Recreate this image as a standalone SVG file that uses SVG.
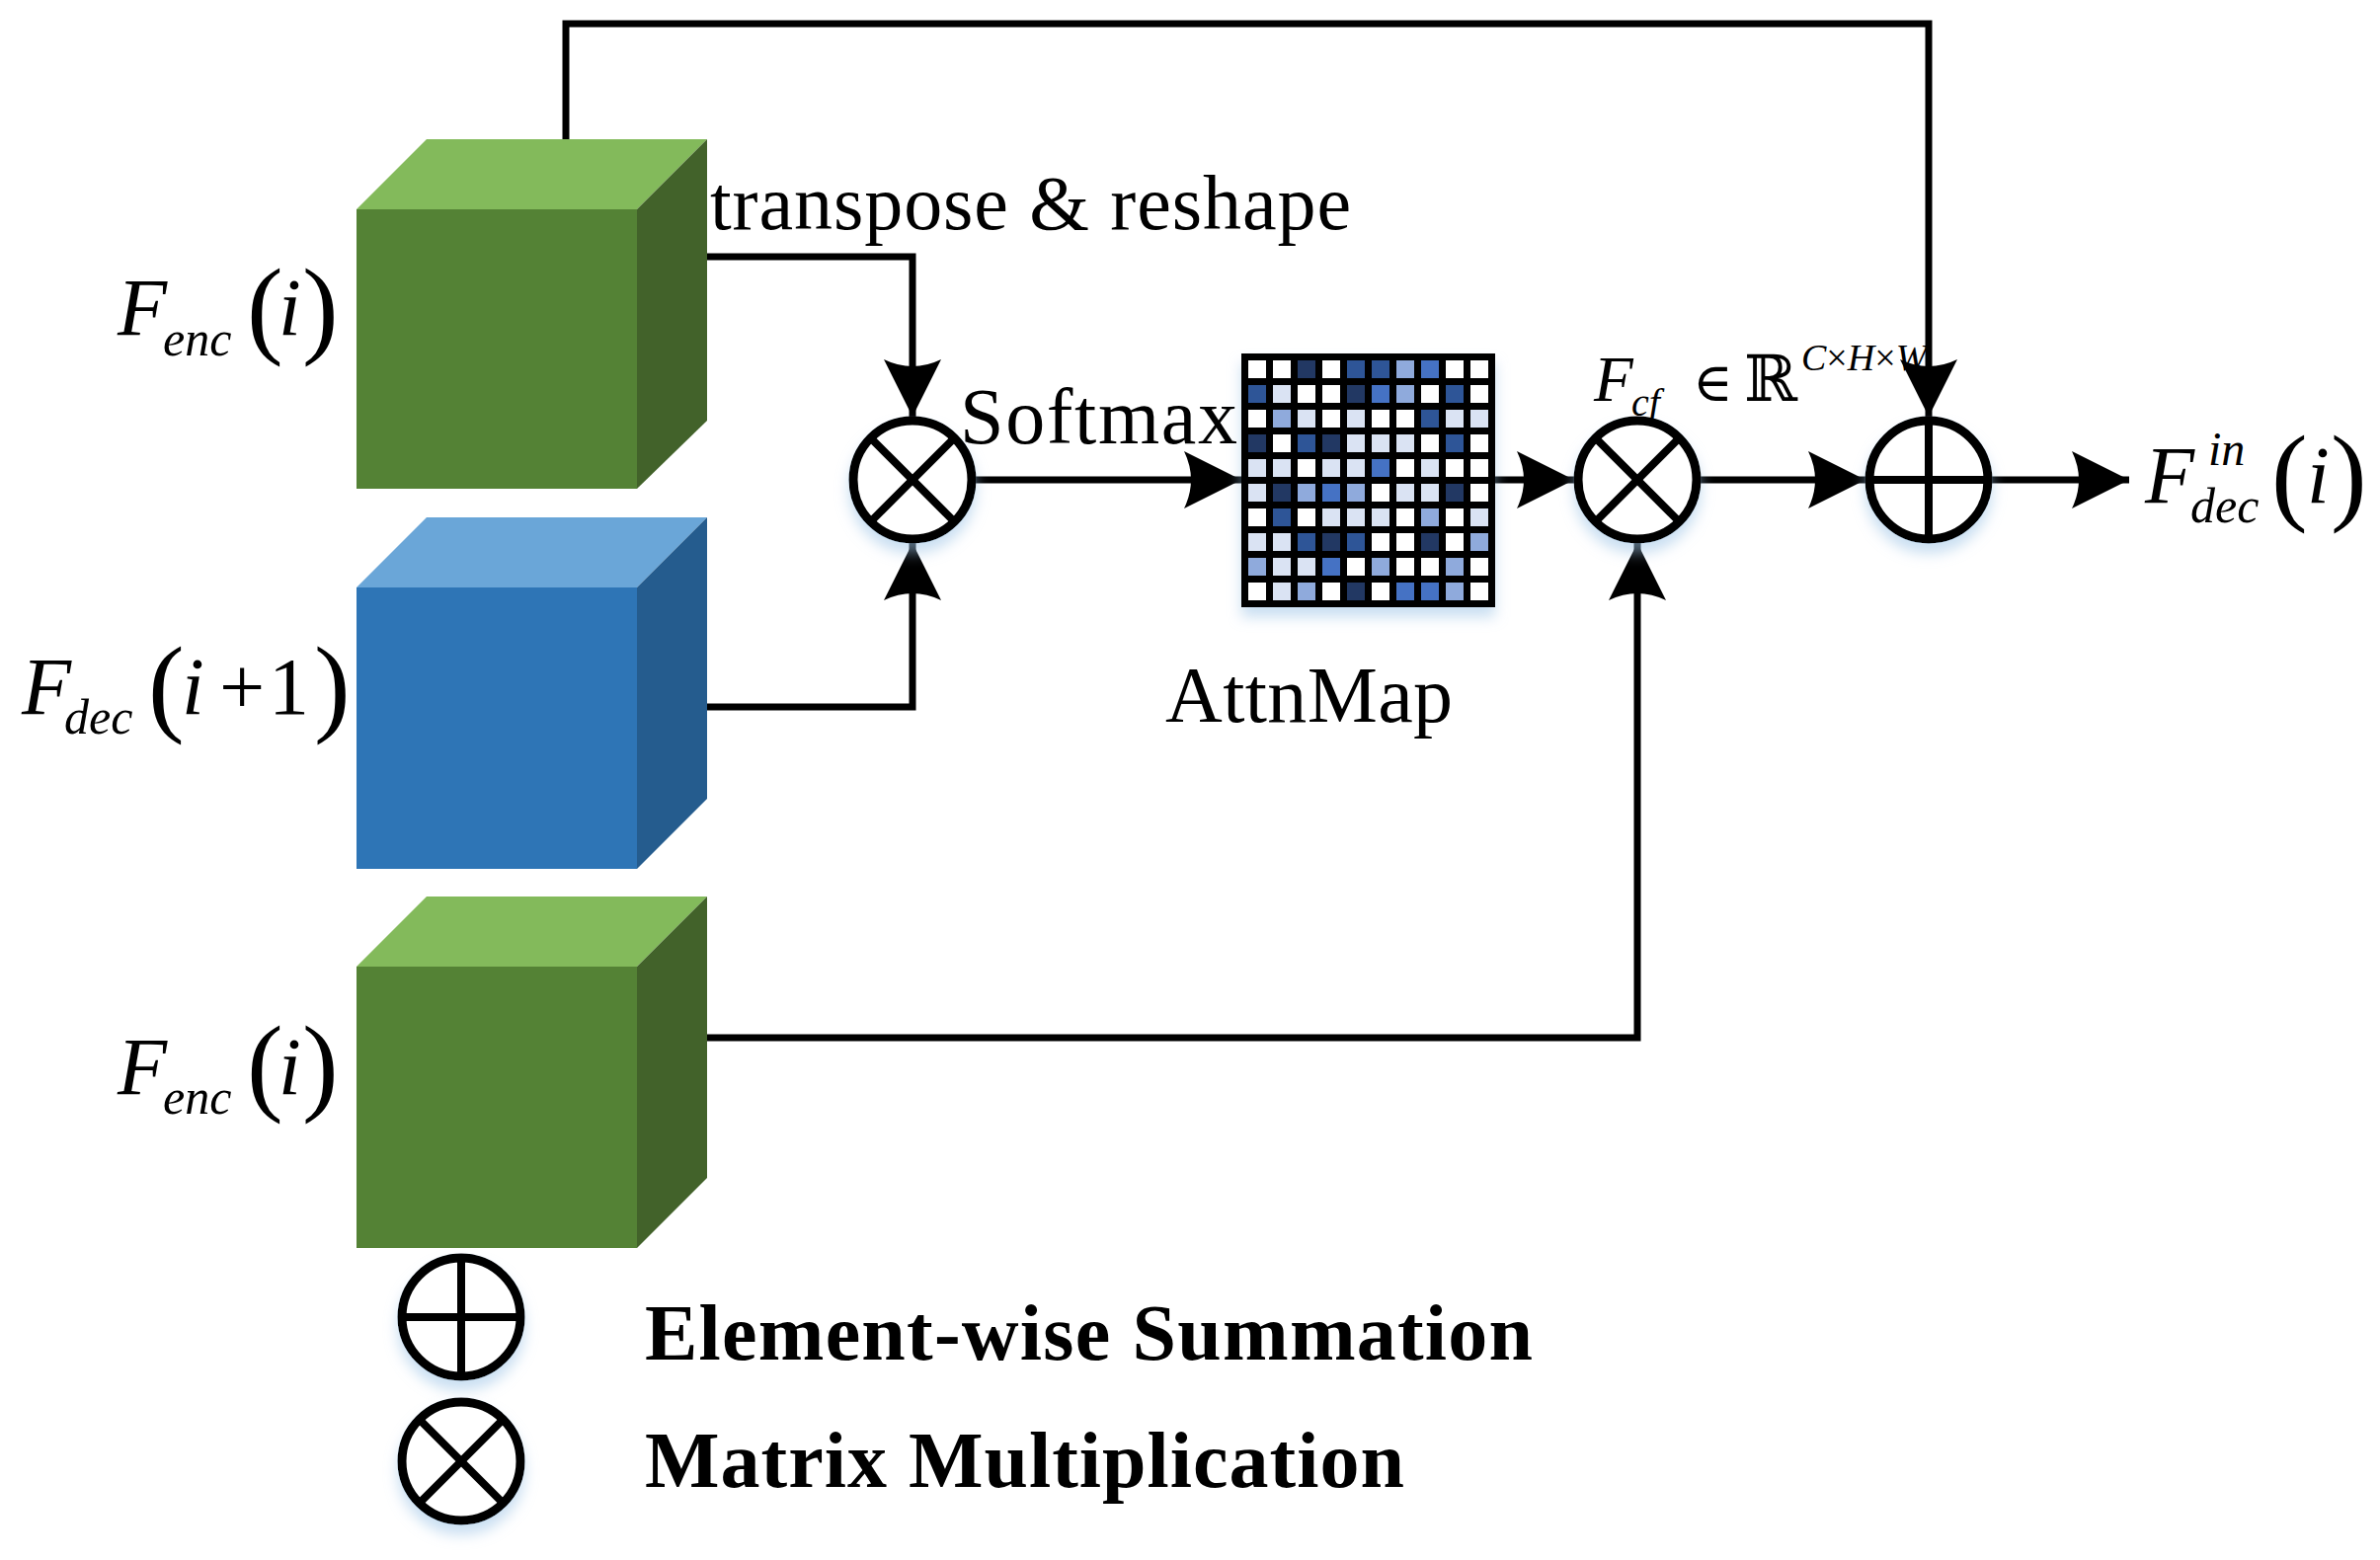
<svg xmlns="http://www.w3.org/2000/svg" width="2410" height="1580" viewBox="0 0 2410 1580">
<style>
.t{font-family:"Liberation Serif","DejaVu Serif",serif;fill:#000}
.i{font-style:italic}
.b{font-weight:bold}
.ln{fill:none;stroke:#000;stroke-width:7}
.op{fill:#fff;stroke:#000;stroke-width:9}
.cx{stroke:#000;stroke-width:8}
.W{fill:#fff}.V{fill:#DAE3F3}.L{fill:#8FAADC}.B{fill:#4472C4}.M{fill:#2F5597}.D{fill:#203864}
</style>
<defs>
<marker id="ar" markerUnits="userSpaceOnUse" markerWidth="60" markerHeight="60" refX="58" refY="29" orient="auto">
<path d="M0,0 L58,29 L0,58 Q14,29 0,0 Z" fill="#000"/>
</marker>
<filter id="gl" x="-30%" y="-30%" width="160%" height="170%">
<feFlood flood-color="#9DC3E6" flood-opacity="0.55"/>
<feComposite in2="SourceAlpha" operator="in"/>
<feGaussianBlur stdDeviation="7"/>
<feOffset dy="10" result="s"/>
<feMerge><feMergeNode in="s"/><feMergeNode in="SourceGraphic"/></feMerge>
</filter>
</defs>

<g id="cube-enc-top">
<polygon points="361,212 432,141 716,141 645,212" fill="#83BA5B"/>
<polygon points="645,212 716,141 716,426 645,495" fill="#42622A"/>
<rect x="361" y="212" width="284" height="283" fill="#548235"/>
</g>
<g id="cube-dec">
<polygon points="361,595 432,524 716,524 645,595" fill="#6AA6D8"/>
<polygon points="645,595 716,524 716,809 645,880" fill="#255C8E"/>
<rect x="361" y="595" width="284" height="285" fill="#2E75B6"/>
</g>
<g id="cube-enc-bottom">
<polygon points="361,979 432,908 716,908 645,979" fill="#83BA5B"/>
<polygon points="645,979 716,908 716,1193 645,1264" fill="#42622A"/>
<rect x="361" y="979" width="284" height="285" fill="#548235"/>
</g>

<g id="connectors">
<path class="ln" d="M716,260 H924 V422" marker-end="url(#ar)"/>
<path class="ln" d="M716,716 H924 V550" marker-end="url(#ar)"/>
<path class="ln" d="M988,486 H1257" marker-end="url(#ar)"/>
<path class="ln" d="M1514,486 H1594" marker-end="url(#ar)"/>
<path class="ln" d="M1722,486 H1889" marker-end="url(#ar)"/>
<path class="ln" d="M2017,486 H2156" marker-end="url(#ar)"/>
<path class="ln" d="M573,141 V24 H1953 V422" marker-end="url(#ar)"/>
<path class="ln" d="M716,1051 H1658 V550" marker-end="url(#ar)"/>
</g>

<g id="mul1" filter="url(#gl)">
<circle class="op" cx="924" cy="486" r="60"/>
<line class="cx" x1="882" y1="444" x2="966" y2="528"/>
<line class="cx" x1="966" y1="444" x2="882" y2="528"/>
</g>
<g id="mul2" filter="url(#gl)">
<circle class="op" cx="1658" cy="486" r="60"/>
<line class="cx" x1="1616" y1="444" x2="1700" y2="528"/>
<line class="cx" x1="1700" y1="444" x2="1616" y2="528"/>
</g>
<g id="sum" filter="url(#gl)">
<circle class="op" cx="1953" cy="486" r="60"/>
<line class="cx" x1="1953" y1="426" x2="1953" y2="546"/>
<line class="cx" x1="1893" y1="486" x2="2013" y2="486"/>
</g>

<g id="attnmap" filter="url(#gl)">
<rect x="1257" y="358" width="257" height="257" fill="#000"/>
<g transform="translate(1264,365)">
<g transform="translate(0,0)"><rect class="W" x="0" width="18" height="18"/><rect class="W" x="25" width="18" height="18"/><rect class="D" x="50" width="18" height="18"/><rect class="W" x="75" width="18" height="18"/><rect class="M" x="100" width="18" height="18"/><rect class="M" x="125" width="18" height="18"/><rect class="L" x="150" width="18" height="18"/><rect class="B" x="175" width="18" height="18"/><rect class="W" x="200" width="18" height="18"/><rect class="W" x="225" width="18" height="18"/></g>
<g transform="translate(0,25)"><rect class="M" x="0" width="18" height="18"/><rect class="V" x="25" width="18" height="18"/><rect class="W" x="50" width="18" height="18"/><rect class="W" x="75" width="18" height="18"/><rect class="D" x="100" width="18" height="18"/><rect class="B" x="125" width="18" height="18"/><rect class="L" x="150" width="18" height="18"/><rect class="W" x="175" width="18" height="18"/><rect class="M" x="200" width="18" height="18"/><rect class="W" x="225" width="18" height="18"/></g>
<g transform="translate(0,50)"><rect class="W" x="0" width="18" height="18"/><rect class="L" x="25" width="18" height="18"/><rect class="V" x="50" width="18" height="18"/><rect class="W" x="75" width="18" height="18"/><rect class="V" x="100" width="18" height="18"/><rect class="W" x="125" width="18" height="18"/><rect class="W" x="150" width="18" height="18"/><rect class="M" x="175" width="18" height="18"/><rect class="V" x="200" width="18" height="18"/><rect class="V" x="225" width="18" height="18"/></g>
<g transform="translate(0,75)"><rect class="D" x="0" width="18" height="18"/><rect class="W" x="25" width="18" height="18"/><rect class="M" x="50" width="18" height="18"/><rect class="D" x="75" width="18" height="18"/><rect class="V" x="100" width="18" height="18"/><rect class="V" x="125" width="18" height="18"/><rect class="V" x="150" width="18" height="18"/><rect class="W" x="175" width="18" height="18"/><rect class="M" x="200" width="18" height="18"/><rect class="W" x="225" width="18" height="18"/></g>
<g transform="translate(0,100)"><rect class="V" x="0" width="18" height="18"/><rect class="V" x="25" width="18" height="18"/><rect class="W" x="50" width="18" height="18"/><rect class="V" x="75" width="18" height="18"/><rect class="V" x="100" width="18" height="18"/><rect class="B" x="125" width="18" height="18"/><rect class="W" x="150" width="18" height="18"/><rect class="V" x="175" width="18" height="18"/><rect class="W" x="200" width="18" height="18"/><rect class="W" x="225" width="18" height="18"/></g>
<g transform="translate(0,125)"><rect class="V" x="0" width="18" height="18"/><rect class="D" x="25" width="18" height="18"/><rect class="L" x="50" width="18" height="18"/><rect class="B" x="75" width="18" height="18"/><rect class="L" x="100" width="18" height="18"/><rect class="W" x="125" width="18" height="18"/><rect class="V" x="150" width="18" height="18"/><rect class="V" x="175" width="18" height="18"/><rect class="D" x="200" width="18" height="18"/><rect class="W" x="225" width="18" height="18"/></g>
<g transform="translate(0,150)"><rect class="W" x="0" width="18" height="18"/><rect class="M" x="25" width="18" height="18"/><rect class="W" x="50" width="18" height="18"/><rect class="V" x="75" width="18" height="18"/><rect class="V" x="100" width="18" height="18"/><rect class="V" x="125" width="18" height="18"/><rect class="W" x="150" width="18" height="18"/><rect class="L" x="175" width="18" height="18"/><rect class="W" x="200" width="18" height="18"/><rect class="V" x="225" width="18" height="18"/></g>
<g transform="translate(0,175)"><rect class="V" x="0" width="18" height="18"/><rect class="V" x="25" width="18" height="18"/><rect class="M" x="50" width="18" height="18"/><rect class="D" x="75" width="18" height="18"/><rect class="M" x="100" width="18" height="18"/><rect class="W" x="125" width="18" height="18"/><rect class="W" x="150" width="18" height="18"/><rect class="D" x="175" width="18" height="18"/><rect class="W" x="200" width="18" height="18"/><rect class="L" x="225" width="18" height="18"/></g>
<g transform="translate(0,200)"><rect class="L" x="0" width="18" height="18"/><rect class="V" x="25" width="18" height="18"/><rect class="V" x="50" width="18" height="18"/><rect class="B" x="75" width="18" height="18"/><rect class="W" x="100" width="18" height="18"/><rect class="L" x="125" width="18" height="18"/><rect class="W" x="150" width="18" height="18"/><rect class="W" x="175" width="18" height="18"/><rect class="L" x="200" width="18" height="18"/><rect class="W" x="225" width="18" height="18"/></g>
<g transform="translate(0,225)"><rect class="W" x="0" width="18" height="18"/><rect class="V" x="25" width="18" height="18"/><rect class="L" x="50" width="18" height="18"/><rect class="W" x="75" width="18" height="18"/><rect class="D" x="100" width="18" height="18"/><rect class="W" x="125" width="18" height="18"/><rect class="B" x="150" width="18" height="18"/><rect class="B" x="175" width="18" height="18"/><rect class="L" x="200" width="18" height="18"/><rect class="W" x="225" width="18" height="18"/></g>
</g>
</g>

<g id="labels">
<text class="t" x="719" y="232" font-size="78" textLength="649" lengthAdjust="spacing">transpose &amp; reshape</text>
<text class="t" x="972" y="449" font-size="80" textLength="281" lengthAdjust="spacing">Softmax</text>
<text class="t" x="1180" y="731" font-size="80" textLength="291" lengthAdjust="spacing">AttnMap</text>

<text class="t i" x="119" y="339" font-size="82">F</text>
<text class="t i" x="165" y="360" font-size="50">enc</text>
<text class="t" x="250" y="348" font-size="110">(</text>
<text class="t i" x="282" y="339" font-size="82">i</text>
<text class="t" x="306" y="348" font-size="110">)</text>

<text class="t i" x="22" y="723" font-size="82">F</text>
<text class="t i" x="65" y="743" font-size="50">dec</text>
<text class="t" x="150" y="731" font-size="110">(</text>
<text class="t i" x="184" y="723" font-size="82">i</text>
<text class="t" x="222" y="723" font-size="82">+</text>
<text class="t" x="272" y="723" font-size="82">1</text>
<text class="t" x="318" y="731" font-size="110">)</text>

<text class="t i" x="119" y="1108" font-size="82">F</text>
<text class="t i" x="165" y="1128" font-size="50">enc</text>
<text class="t" x="250" y="1115" font-size="110">(</text>
<text class="t i" x="282" y="1108" font-size="82">i</text>
<text class="t" x="306" y="1115" font-size="110">)</text>

<text class="t i" x="1614" y="406" font-size="65">F</text>
<text class="t i" x="1652" y="421" font-size="40">cf</text>
<text class="t" x="1714" y="406" font-size="55">∈</text>
<text class="t" x="1766" y="406" font-size="65">ℝ</text>
<text class="t" x="1824" y="375" font-size="38"><tspan class="i">C</tspan>×<tspan class="i">H</tspan>×<tspan class="i">W</tspan></text>

<text class="t i" x="2172" y="509" font-size="82">F</text>
<text class="t i" x="2236" y="471" font-size="48">in</text>
<text class="t i" x="2218" y="529" font-size="50">dec</text>
<text class="t" x="2300" y="517" font-size="110">(</text>
<text class="t i" x="2336" y="509" font-size="82">i</text>
<text class="t" x="2360" y="517" font-size="110">)</text>
</g>

<g id="legend-sum" filter="url(#gl)">
<circle class="op" cx="467" cy="1334" r="60"/>
<line class="cx" x1="467" y1="1274" x2="467" y2="1394"/>
<line class="cx" x1="407" y1="1334" x2="527" y2="1334"/>
</g>
<g id="legend-mul" filter="url(#gl)">
<circle class="op" cx="467" cy="1480" r="60"/>
<line class="cx" x1="425" y1="1438" x2="509" y2="1522"/>
<line class="cx" x1="509" y1="1438" x2="425" y2="1522"/>
</g>
<g id="legend-text">
<text class="t b" x="653" y="1377" font-size="80" textLength="899" lengthAdjust="spacing">Element-wise Summation</text>
<text class="t b" x="653" y="1506" font-size="80" textLength="769" lengthAdjust="spacing">Matrix Multiplication</text>
</g>
</svg>
